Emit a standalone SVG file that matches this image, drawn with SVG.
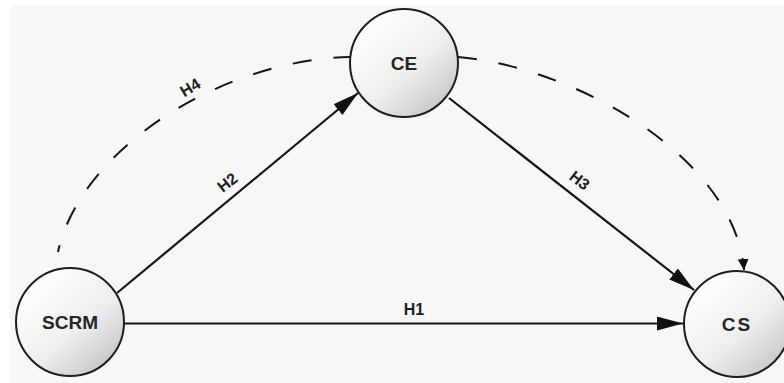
<svg xmlns="http://www.w3.org/2000/svg" width="784" height="383" viewBox="0 0 784 383">
<defs>
<linearGradient id="g" x1="0.15" y1="0.1" x2="0.9" y2="0.95">
<stop offset="0" stop-color="#ffffff"/>
<stop offset="0.55" stop-color="#eeeeee"/>
<stop offset="1" stop-color="#c2c2c2"/>
</linearGradient>
<marker id="big" viewBox="0 0 26 14" refX="26" refY="7" markerWidth="26" markerHeight="14" markerUnits="userSpaceOnUse" orient="auto">
<path d="M0,0 L26,7 L0,14 Z" fill="#111"/>
</marker>
<marker id="small" viewBox="0 0 11 11" refX="11" refY="5.5" markerWidth="11" markerHeight="11" markerUnits="userSpaceOnUse" orient="auto">
<path d="M0,0 L11,5.5 L0,11 Z" fill="#111"/>
</marker>
</defs>
<style>
.node{fill:url(#g);stroke:#1e1e1e;stroke-width:2}
.nt{font-family:"Liberation Sans",Arial,sans-serif;font-weight:bold;font-size:19px;fill:#262626;text-anchor:middle}
.lb{font-family:"Liberation Sans",Arial,sans-serif;font-weight:bold;font-size:16px;fill:#1e1e1e;text-anchor:middle}
.solid{fill:none;stroke:#151515;stroke-width:2.2}
.dash{fill:none;stroke:#151515;stroke-width:2;stroke-dasharray:19 22}
</style>
<rect x="10" y="5" width="774" height="378" fill="#f7f7f7"/>
<g id="connectors">
<line class="solid" x1="124" y1="323.5" x2="683" y2="323.5" marker-end="url(#big)"/>
<line class="solid" x1="117" y1="293" x2="358" y2="93" marker-end="url(#big)"/>
<line class="solid" x1="449" y1="98" x2="694" y2="290" marker-end="url(#big)"/>
<path class="dash" d="M58,252 C80,150 220,60 350,57" stroke-dashoffset="12"/>
<path class="dash" d="M458,57 C580,68 735,160 744,270" marker-end="url(#small)"/>
<text class="lb" x="414" y="315" font-size="18">H1</text>
<text class="lb" transform="translate(227,182) rotate(-38)" x="0" y="6">H2</text>
<text class="lb" transform="translate(580,180) rotate(38)" x="0" y="6">H3</text>
<text class="lb" transform="translate(190,87) rotate(-31)" x="0" y="6">H4</text>
</g>
<g id="SCRM">
<circle class="node" cx="70" cy="322" r="54"/>
<text class="nt" x="70" y="329">SCRM</text>
</g>
<g id="CE">
<circle class="node" cx="404" cy="63" r="54"/>
<text class="nt" x="404" y="70">CE</text>
</g>
<g id="CS">
<circle class="node" cx="737" cy="324" r="53"/>
<text class="nt" x="737" y="331" letter-spacing="2">CS</text>
</g>
</svg>
